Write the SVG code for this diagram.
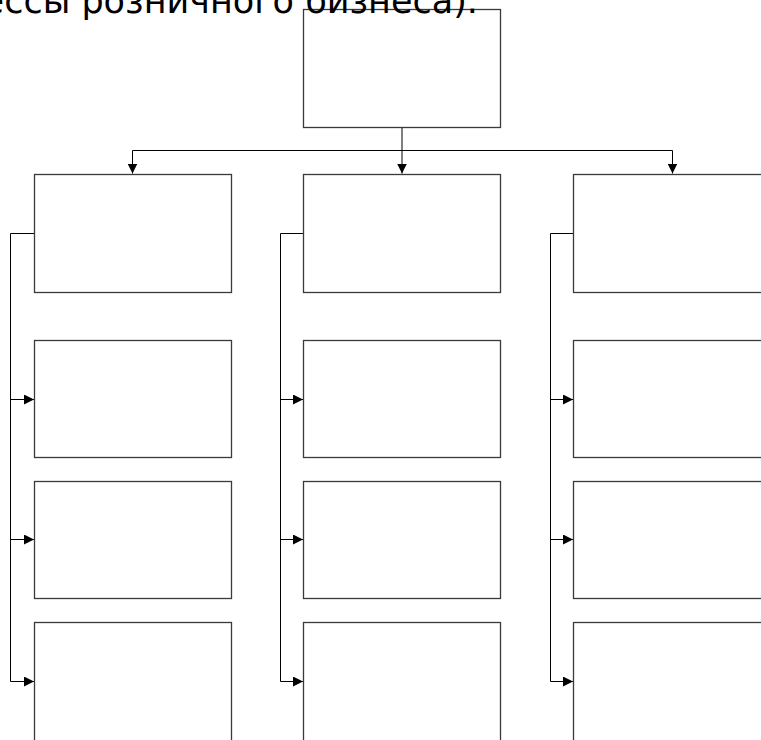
<svg xmlns="http://www.w3.org/2000/svg" width="761" height="740" viewBox="0 0 761 740">
<defs>
<marker id="arr" viewBox="0 0 10 10" refX="10" refY="5" markerWidth="10" markerHeight="10" markerUnits="userSpaceOnUse" orient="auto">
<path d="M0,0 L10,5 L0,10 Z" fill="#000"/>
</marker>
</defs>
<style>
.box{fill:#fff;stroke:#3a3a3a;stroke-width:1.3}
.ln{fill:none;stroke:#000;stroke-width:1}
.ttl{font-family:"DejaVu Sans",sans-serif;font-size:35px;fill:#000}
</style>
<rect width="761" height="740" fill="#fff"/>
<g id="connectors">
<path class="ln" d="M402,127.5 V173.5" marker-end="url(#arr)"/>
<path class="ln" d="M132.5,150.5 H672.5"/>
<path class="ln" d="M132.5,150.5 V173.5" marker-end="url(#arr)"/>
<path class="ln" d="M672.5,150.5 V173.5" marker-end="url(#arr)"/>
<path class="ln" d="M34.5,233.5 H10.5 V681.5"/>
<path class="ln" d="M10.5,399.5 H34" marker-end="url(#arr)"/>
<path class="ln" d="M10.5,539.5 H34" marker-end="url(#arr)"/>
<path class="ln" d="M10.5,681.5 H34" marker-end="url(#arr)"/>
<path class="ln" d="M303.5,233.5 H280.5 V681.5"/>
<path class="ln" d="M280.5,399.5 H303" marker-end="url(#arr)"/>
<path class="ln" d="M280.5,539.5 H303" marker-end="url(#arr)"/>
<path class="ln" d="M280.5,681.5 H303" marker-end="url(#arr)"/>
<path class="ln" d="M573.5,233.5 H550.5 V681.5"/>
<path class="ln" d="M550.5,399.5 H573" marker-end="url(#arr)"/>
<path class="ln" d="M550.5,539.5 H573" marker-end="url(#arr)"/>
<path class="ln" d="M550.5,681.5 H573" marker-end="url(#arr)"/>
</g>
<g id="top"><rect class="box" x="303.5" y="9.5" width="197" height="118"/></g>
<g id="c1r1"><rect class="box" x="34.5" y="174.5" width="197" height="118"/></g>
<g id="c1r2"><rect class="box" x="34.5" y="340.5" width="197" height="117"/></g>
<g id="c1r3"><rect class="box" x="34.5" y="481.5" width="197" height="117"/></g>
<g id="c1r4"><rect class="box" x="34.5" y="622.5" width="197" height="130"/></g>
<g id="c2r1"><rect class="box" x="303.5" y="174.5" width="197" height="118"/></g>
<g id="c2r2"><rect class="box" x="303.5" y="340.5" width="197" height="117"/></g>
<g id="c2r3"><rect class="box" x="303.5" y="481.5" width="197" height="117"/></g>
<g id="c2r4"><rect class="box" x="303.5" y="622.5" width="197" height="130"/></g>
<g id="c3r1"><rect class="box" x="573.5" y="174.5" width="197" height="118"/></g>
<g id="c3r2"><rect class="box" x="573.5" y="340.5" width="197" height="117"/></g>
<g id="c3r3"><rect class="box" x="573.5" y="481.5" width="197" height="117"/></g>
<g id="c3r4"><rect class="box" x="573.5" y="622.5" width="197" height="130"/></g>
<text class="ttl" x="478" y="13" text-anchor="end">ессы розничного бизнеса).</text>
</svg>
